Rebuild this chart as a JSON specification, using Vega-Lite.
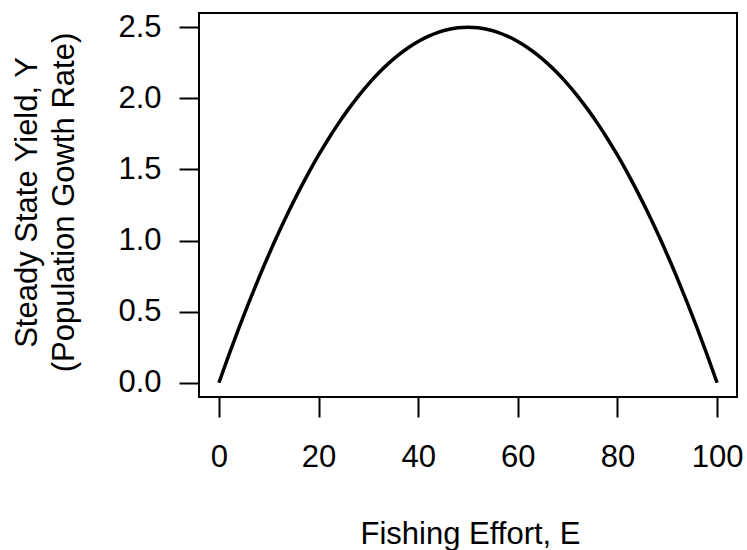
{
  "$schema": "https://vega.github.io/schema/vega-lite/v6.json",
  "width": 538,
  "height": 384,
  "autosize": "none",
  "padding": {"left": 199, "top": 13, "right": 10, "bottom": 153},
  "background": "white",
  "config": {
    "view": {"stroke": "black", "strokeWidth": 2},
    "font": "Liberation Sans"
  },
  "data": {
    "values": [
      {"E": 0, "Y": 0}, {"E": 2, "Y": 0.196}, {"E": 4, "Y": 0.384}, {"E": 6, "Y": 0.564},
      {"E": 8, "Y": 0.736}, {"E": 10, "Y": 0.9}, {"E": 12, "Y": 1.056}, {"E": 14, "Y": 1.204},
      {"E": 16, "Y": 1.344}, {"E": 18, "Y": 1.476}, {"E": 20, "Y": 1.6}, {"E": 22, "Y": 1.716},
      {"E": 24, "Y": 1.824}, {"E": 26, "Y": 1.924}, {"E": 28, "Y": 2.016}, {"E": 30, "Y": 2.1},
      {"E": 32, "Y": 2.176}, {"E": 34, "Y": 2.244}, {"E": 36, "Y": 2.304}, {"E": 38, "Y": 2.356},
      {"E": 40, "Y": 2.4}, {"E": 42, "Y": 2.436}, {"E": 44, "Y": 2.464}, {"E": 46, "Y": 2.484},
      {"E": 48, "Y": 2.496}, {"E": 50, "Y": 2.5}, {"E": 52, "Y": 2.496}, {"E": 54, "Y": 2.484},
      {"E": 56, "Y": 2.464}, {"E": 58, "Y": 2.436}, {"E": 60, "Y": 2.4}, {"E": 62, "Y": 2.356},
      {"E": 64, "Y": 2.304}, {"E": 66, "Y": 2.244}, {"E": 68, "Y": 2.176}, {"E": 70, "Y": 2.1},
      {"E": 72, "Y": 2.016}, {"E": 74, "Y": 1.924}, {"E": 76, "Y": 1.824}, {"E": 78, "Y": 1.716},
      {"E": 80, "Y": 1.6}, {"E": 82, "Y": 1.476}, {"E": 84, "Y": 1.344}, {"E": 86, "Y": 1.204},
      {"E": 88, "Y": 1.056}, {"E": 90, "Y": 0.9}, {"E": 92, "Y": 0.736}, {"E": 94, "Y": 0.564},
      {"E": 96, "Y": 0.384}, {"E": 98, "Y": 0.196}, {"E": 100, "Y": 0}
    ]
  },
  "mark": {"type": "line", "color": "black", "strokeWidth": 3.5, "interpolate": "monotone"},
  "encoding": {
    "x": {
      "field": "E", "type": "quantitative",
      "scale": {"domain": [-4, 104], "nice": false, "zero": false},
      "axis": {
        "values": [0, 20, 40, 60, 80, 100],
        "grid": false, "domain": false,
        "tickColor": "black", "tickSize": 20, "tickWidth": 2,
        "labelFontSize": 31, "labelColor": "black", "labelPadding": 49,
        "labelBaseline": "alphabetic",
        "labelFont": "Liberation Sans",
        "title": "Fishing Effort, E",
        "titleFontSize": 31, "titleFontWeight": "normal", "titleColor": "black",
        "titleFont": "Liberation Sans",
        "titleX": 271, "titleY": 146, "titleBaseline": "alphabetic", "titleAlign": "center"
      }
    },
    "y": {
      "field": "Y", "type": "quantitative",
      "scale": {"domain": [-0.1, 2.6], "nice": false, "zero": false},
      "axis": {
        "values": [0, 0.5, 1, 1.5, 2, 2.5],
        "format": ".1f",
        "grid": false, "domain": false,
        "tickColor": "black", "tickSize": 20, "tickWidth": 2,
        "labelFontSize": 31, "labelColor": "black", "labelPadding": 18,
        "labelFont": "Liberation Sans",
        "title": ["Steady State Yield, Y", "(Population Gowth Rate)"],
        "titleFontSize": 31, "titleFontWeight": "normal", "titleColor": "black",
        "titleFont": "Liberation Sans", "titleLineHeight": 37,
        "titleAngle": -90, "titleX": -163, "titleY": 189,
        "titleBaseline": "alphabetic", "titleAlign": "center"
      }
    }
  }
}
